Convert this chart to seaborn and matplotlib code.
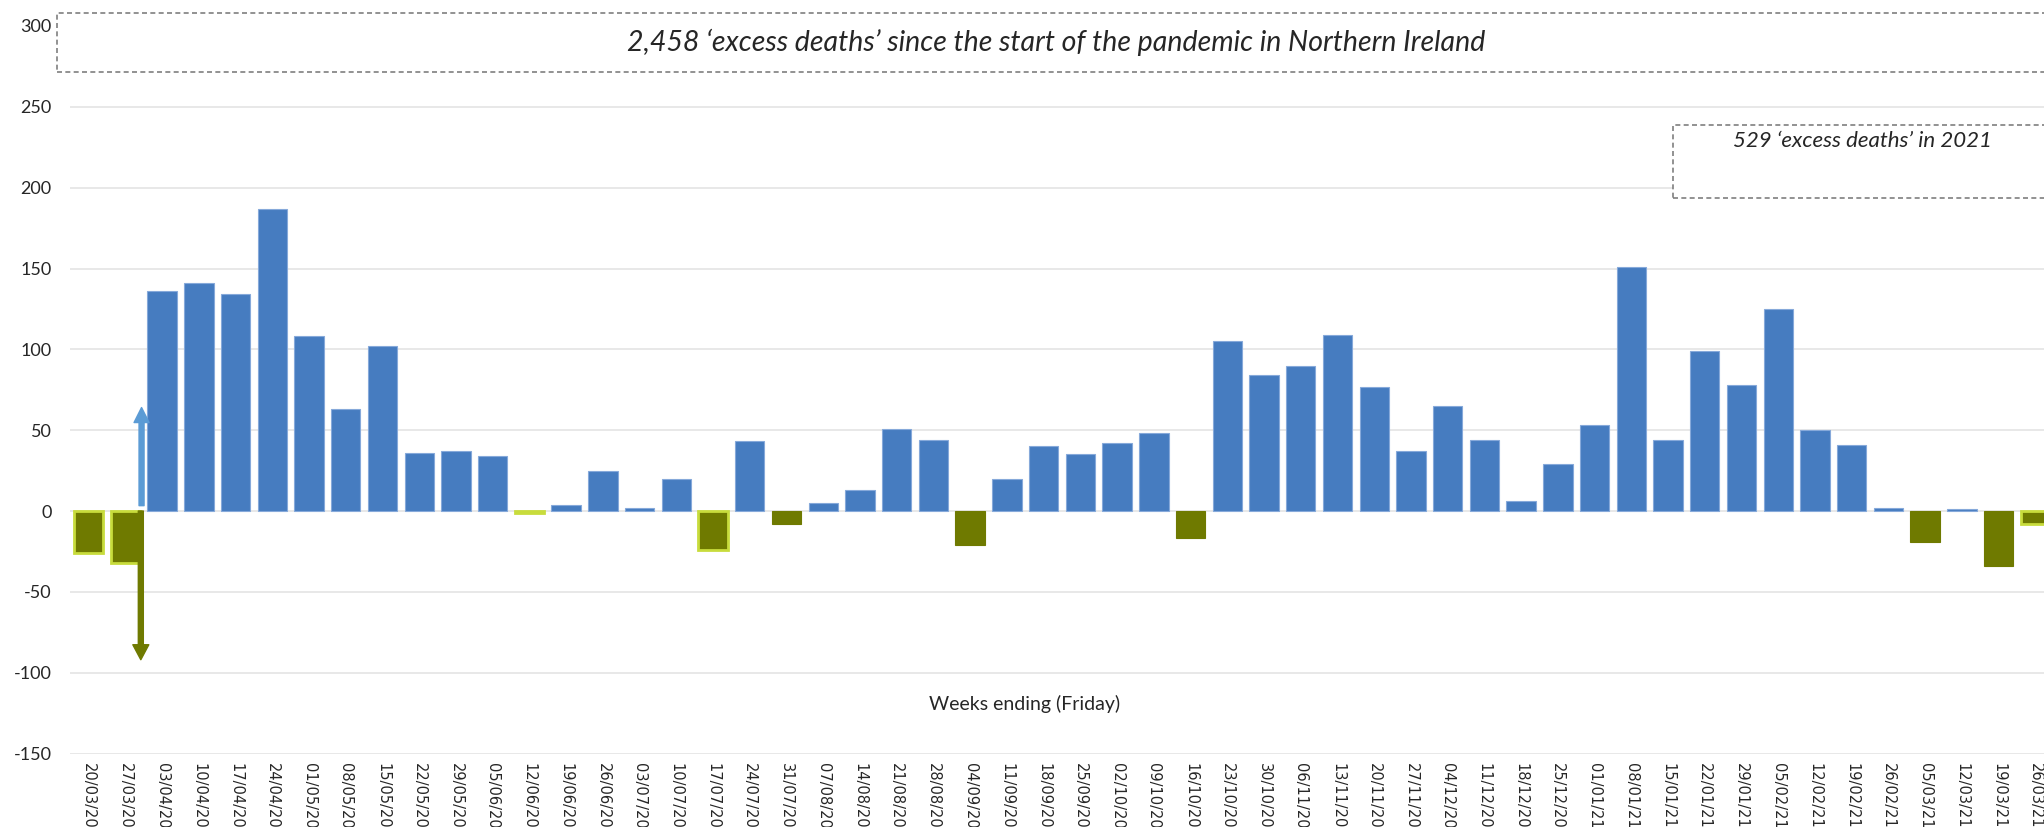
import matplotlib
matplotlib.use("Agg")
import matplotlib.pyplot as plt
from matplotlib.patches import Rectangle
import seaborn as sns

# weekly excess deaths, Northern Ireland (week ending Friday)
weeks = ['20/03/20', '27/03/20', '03/04/20', '10/04/20', '17/04/20', '24/04/20',
         '01/05/20', '08/05/20', '15/05/20', '22/05/20', '29/05/20', '05/06/20',
         '12/06/20', '19/06/20', '26/06/20', '03/07/20', '10/07/20', '17/07/20',
         '24/07/20', '31/07/20', '07/08/20', '14/08/20', '21/08/20', '28/08/20',
         '04/09/20', '11/09/20', '18/09/20', '25/09/20', '02/10/20', '09/10/20',
         '16/10/20', '23/10/20', '30/10/20', '06/11/20', '13/11/20', '20/11/20',
         '27/11/20', '04/12/20', '11/12/20', '18/12/20', '25/12/20', '01/01/21',
         '08/01/21', '15/01/21', '22/01/21', '29/01/21', '05/02/21', '12/02/21',
         '19/02/21', '26/02/21', '05/03/21', '12/03/21', '19/03/21', '26/03/21']
excess = [-26, -32, 136, 141, 134, 187, 108, 63, 102, 36, 37, 34,
          -1, 4, 25, 2, 20, -24, 43, -8, 5, 13, 51, 44,
          -21, 20, 40, 35, 42, 48, -17, 105, 84, 90, 109, 77,
          37, 65, 44, 6, 29, 53, 151, 44, 99, 78, 125, 50,
          41, 2, -19, 1, -34, -8]
yticks = [-150, -100, -50, 0, 50, 100, 150, 200, 250, 300]

title_text = '2,458 \u2018excess deaths\u2019 since the start of the pandemic in Northern Ireland'
box_text = '529 \u2018excess deaths\u2019 in 2021'
x_title = 'Weeks ending (Friday)'

# weeks whose (negative) bar carries a bright outline in the original
outlined = {'20/03/20', '27/03/20', '12/06/20', '17/07/20', '26/03/21'}

BLUE = '#467CC0'
OLIVE = '#6F7A00'
LIME = '#C8DC3C'

sns.set_style("white")
plt.rcParams['font.family'] = ['DejaVu Sans']

fig = plt.figure(figsize=(20.44, 8.27), dpi=100)
W, H = 2044, 827
ax = fig.add_axes([70.3 / W, (H - 753.5) / H, (2053.7 - 70.3) / W, (753.5 - 26) / H])

colors = [BLUE if v >= 0 else OLIVE for v in excess]
sns.barplot(x=weeks, y=excess, hue=weeks, palette=colors, legend=False,
            width=0.8, saturation=1, ax=ax)

for wk, v, bar in zip(weeks, excess, ax.patches):
    if wk in outlined:
        bar.set_edgecolor(LIME)
        bar.set_linewidth(2)
    elif v >= 0:
        bar.set_edgecolor('#86A9DA')
        bar.set_linewidth(0.8)
    else:
        bar.set_edgecolor(OLIVE)
        bar.set_linewidth(0.8)

ax.set_xlim(-0.5, len(weeks) - 0.5)
ax.set_ylim(-150, 300)
ax.set_yticks(yticks)
ax.set_yticklabels([str(t) for t in yticks], family='Lato', fontsize=13)
ax.yaxis.grid(True, color='#E8E8E8', lw=1.4)
ax.set_axisbelow(True)
for s in ax.spines.values():
    s.set_visible(False)
ax.tick_params(axis='both', length=0)
ax.tick_params(axis='y', pad=13.5)
ax.tick_params(axis='x', pad=7, labelsize=10.5, rotation=-90)

ax.set_xlabel(x_title, family='Lato', fontsize=14)
ax.xaxis.set_label_coords(0.4813, 0.068)
ax.xaxis.label.set_va('center')

# arrows at the start of the series
ax.annotate('', xy=(1.44, 64), xytext=(1.44, 3.3),
            arrowprops=dict(width=3.6, headwidth=10.8, headlength=10.8,
                            color='#5B9BD5', shrink=0))
ax.annotate('', xy=(1.42, -92), xytext=(1.42, 0),
            arrowprops=dict(width=3.6, headwidth=11.5, headlength=10.8,
                            color=OLIVE, shrink=0))

# dashed annotation boxes
fig.add_artist(Rectangle((57 / W, (H - 72) / H), 0.98, 59 / H, transform=fig.transFigure,
                         facecolor='white', edgecolor='#7F7F7F', lw=1.2, ls=(0, (3, 2))))
fig.text(1056 / W, 1 - 42 / H, title_text, ha='center', va='center',
         family='Lato', style='italic', fontsize=20.5)

fig.add_artist(Rectangle((1673 / W, (H - 198) / H), 0.3, 73 / H, transform=fig.transFigure,
                         facecolor='white', edgecolor='#7F7F7F', lw=1.2, ls=(0, (3, 2))))
fig.text(1862 / W, 1 - 141 / H, box_text, ha='center', va='center',
         family='Lato', style='italic', fontsize=16)

fig.savefig('out.png', dpi=100)
